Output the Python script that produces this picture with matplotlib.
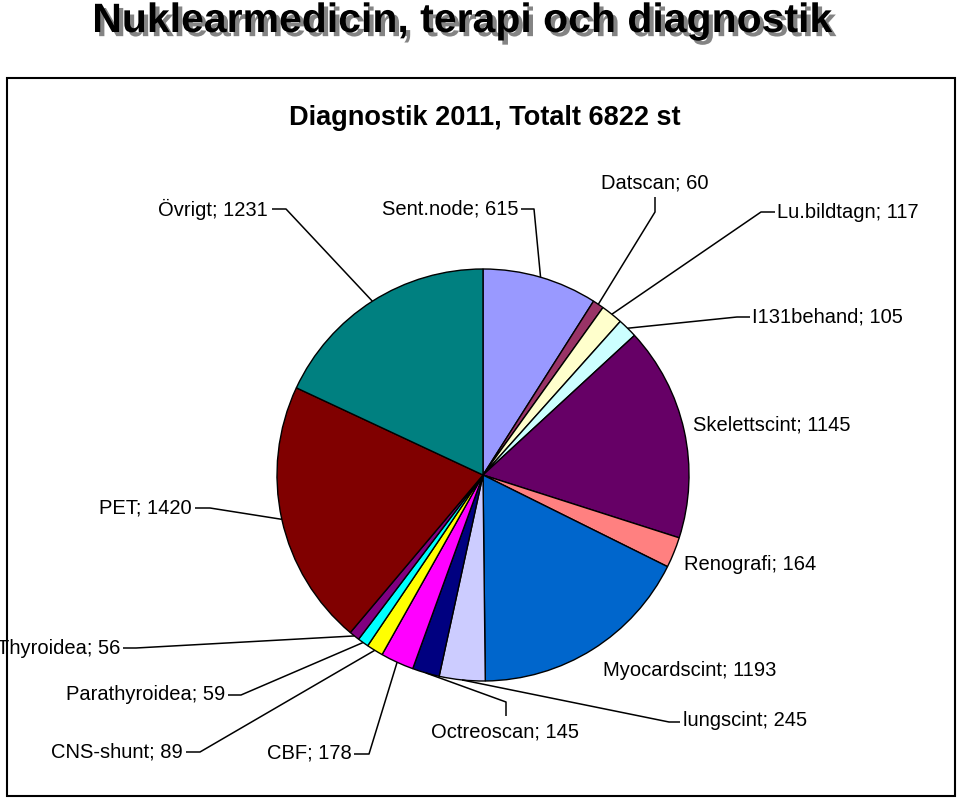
import matplotlib
matplotlib.use("Agg")
import matplotlib.pyplot as plt
import matplotlib.patheffects as pe
from matplotlib.patches import Rectangle
import numpy as np

categories = ["Sent.node", "Datscan", "Lu.bildtagn", "I131behand", "Skelettscint",
              "Renografi", "Myocardscint", "lungscint", "Octreoscan", "CBF",
              "CNS-shunt", "Parathyroidea", "Thyroidea", "PET", "Övrigt"]
values = [615, 60, 117, 105, 1145, 164, 1193, 245, 145, 178, 89, 59, 56, 1420, 1231]
colors = ["#9999FF", "#993366", "#FFFFCC", "#CCFFFF", "#660066", "#FF8080", "#0066CC",
          "#CCCCFF", "#000080", "#FF00FF", "#FFFF00", "#00FFFF", "#800080", "#800000",
          "#008080"]
title = "Nuklearmedicin, terapi och diagnostik"
subtitle = "Diagnostik 2011, Totalt 6822 st"

W, H = 960, 798
fig = plt.figure(figsize=(W / 100, H / 100), dpi=100)
ax = fig.add_axes([0, 0, 1, 1])
ax.set_xlim(0, W)
ax.set_ylim(0, H)
ax.set_aspect("equal")
ax.axis("off")

def Y(y):
    return H - y

# chart border
ax.add_patch(Rectangle((7, Y(796)), 948, 796 - 78, fill=False, lw=1.5, ec="black"))

cx, cy, R = 483, 475, 206
wedges, _ = ax.pie(values, colors=colors, startangle=90, counterclock=False,
                   center=(cx, Y(cy)), radius=R,
                   wedgeprops=dict(edgecolor="black", linewidth=1.0))
ax.set_xlim(0, W)
ax.set_ylim(0, H)

fs = 14.5
fam = ["Liberation Sans", "DejaVu Sans"]

# label layout: (text x, text y, ha, va, path of elbow points in px or None)
layout = {
    "Övrigt":       (268, 209, "right", "center", [(272, 209), (286, 209)]),
    "Sent.node":    (518, 209, "right", "center", [(521, 209), (534, 209)]),
    "Datscan":      (655, 183, "center", "center", [(655, 197), (655, 212)]),
    "Lu.bildtagn":  (777, 212, "left", "center", [(775, 212), (761, 212)]),
    "I131behand":   (752, 317, "left", "center", [(750, 317), (737, 317)]),
    "Skelettscint": (693, 425, "left", "center", None),
    "Renografi":    (684, 564, "left", "center", None),
    "Myocardscint": (690, 671, "center", "center", None),
    "lungscint":    (683, 721, "left", "center", [(680, 722), (669, 722)]),
    "Octreoscan":   (505, 732, "center", "center", [(506, 716), (506, 702)]),
    "CBF":          (352, 753, "right", "center", [(354, 754), (369, 754)]),
    "CNS-shunt":    (183, 752, "right", "center", [(186, 752), (200, 752)]),
    "Parathyroidea": (225, 695, "right", "center", [(228, 695), (241, 695)]),
    "Thyroidea":    (120, 648, "right", "center", [(123, 648), (136, 648)]),
    "PET":          (192, 508, "right", "center", [(195, 508), (210, 508)]),
}

for w, name, val in zip(wedges, categories, values):
    tx, ty, ha, va, path = layout[name]
    ax.text(tx, Y(ty), f"{name}; {val}", ha=ha, va=va, fontsize=fs, family=fam)
    if path:
        mid = np.deg2rad((w.theta1 + w.theta2) / 2)
        ex = cx + R * np.cos(mid)
        ey = Y(cy) + R * np.sin(mid)
        xs = [p[0] for p in path] + [ex]
        ys = [Y(p[1]) for p in path] + [ey]
        ax.plot(xs, ys, color="black", lw=1.1, solid_capstyle="butt")

ax.text(485, Y(118), subtitle, ha="center", va="center", fontsize=19.5,
        fontweight="bold", family=fam)

ax.text(462, Y(21), title, ha="center", va="center", fontsize=29.5, fontweight="bold",
        family=fam,
        path_effects=[pe.SimplePatchShadow(offset=(3, -3), shadow_rgbFace="#777777", alpha=0.9),
                      pe.Normal()])

fig.savefig("out.png", dpi=100)
